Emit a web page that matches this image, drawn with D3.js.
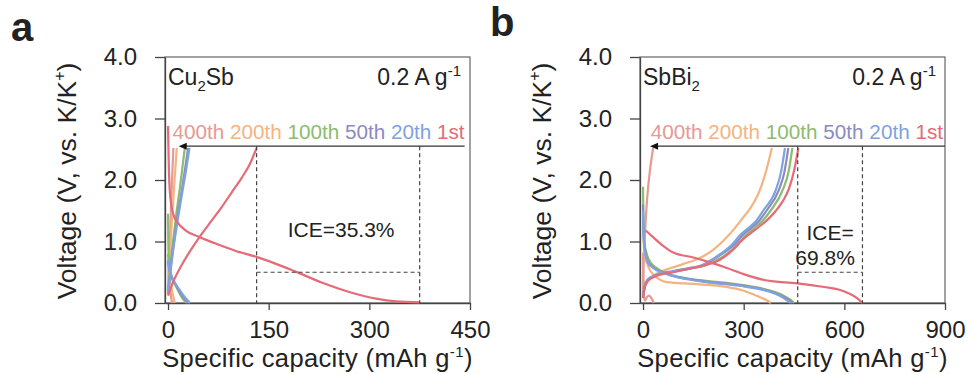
<!DOCTYPE html>
<html>
<head>
<meta charset="utf-8">
<script src="https://cdn.jsdelivr.net/npm/d3@7/dist/d3.min.js"></script>
<style>
  body { margin: 0; background: #fff; }
  text { font-family: "Liberation Sans", Arial, sans-serif; fill: #222; }
</style>
</head>
<body>
<svg id="chart" width="971" height="374"></svg>
<script>
// cycles, drawn from 400th up to 1st so the 1st sits on top
const cycleLabels = ["400th", "200th", "100th", "50th", "20th", "1st"];
const cycleColors = ["#e59a94", "#f5b380", "#8dbb6f", "#8a8cbf", "#7fa3de", "#e56b76"];

const voltTicks = [0, 1, 2, 3, 4];
const capTicksA = [0, 150, 300, 450];
const capTicksB = [0, 300, 600, 900];

// --- Cu2Sb, [capacity mAh/g, voltage V] ---
const cu400Cha = [[0, 0.25], [2, 0.8], [4, 1.4], [6, 2.0], [8, 2.52]];
const cu400Dis = [[0, 0.8], [1, 0.55], [2, 0.35], [4, 0.15], [6, 0]];
const cu200Cha = [[0, 0.2], [2, 0.6], [5, 1.2], [8, 1.7], [11, 2.2], [13, 2.52]];
const cu200Dis = [[0, 0.75], [1, 0.55], [3, 0.38], [5, 0.25], [8, 0.1], [10, 0]];
const cu100Cha = [[0, 0.18], [3, 0.55], [8, 1.05], [13, 1.5], [18, 1.9], [22, 2.25], [25, 2.52]];
const cu100Dis = [[0, 1.45], [0.5, 0.95], [2, 0.62], [6, 0.42], [12, 0.27], [18, 0.14], [24, 0.04], [28, 0]];
const cu50Cha = [[0, 0.15], [3, 0.48], [8, 0.93], [14, 1.4], [20, 1.8], [25, 2.15], [30, 2.52]];
const cu50Dis = [[0, 0.68], [2, 0.54], [6, 0.4], [12, 0.28], [19, 0.15], [26, 0.05], [31, 0]];
const cu20Cha = [[0, 0.15], [3, 0.45], [8, 0.88], [14, 1.32], [20, 1.72], [26, 2.1], [32, 2.52]];
const cu20Dis = [[0, 0.7], [2, 0.55], [6, 0.42], [12, 0.3], [20, 0.17], [27, 0.07], [33, 0]];
const cu1stCha = [[0, 0.12], [4, 0.24], [10, 0.4], [20, 0.61], [35, 0.88], [50, 1.12], [65, 1.34],
                  [80, 1.56], [95, 1.8], [110, 2.04], [122, 2.26], [132, 2.52]];
const cu1stDis = [[0, 2.88], [1, 2.3], [2, 1.95], [4, 1.66], [8, 1.44], [15, 1.3], [25, 1.19], [45, 1.08],
                  [70, 0.97], [100, 0.85], [132, 0.75], [160, 0.64], [190, 0.51], [230, 0.33],
                  [270, 0.18], [310, 0.07], [340, 0.025], [375, 0.01]];

// --- SbBi2 ---
const sb400Cha = [[0, 0.1], [1, 0.55], [30, 2.52]];
const sb400Dis = [[0, 0.82], [1, 0.4], [3, 0.1], [6, 0.04], [12, 0.1], [18, 0.12], [25, 0.08], [32, 0]];
const sb200Cha = [[0, 0.12], [10, 0.33], [31, 0.44], [90, 0.58], [140, 0.67], [169, 0.73], [208, 0.86],
                  [248, 1.06], [297, 1.38], [330, 1.63], [350, 1.86], [367, 2.15], [384, 2.52]];
const sb200Dis = [[0, 1.2], [3, 0.9], [8, 0.72], [15, 0.6], [22, 0.52], [31, 0.46], [50, 0.38], [70, 0.34],
                  [150, 0.31], [250, 0.26], [300, 0.2], [346, 0.1], [370, 0.04], [381, 0]];
const sb100Cha = [[0, 0.1], [5, 0.28], [15, 0.38], [40, 0.45], [90, 0.51], [140, 0.56], [185, 0.61],
                  [235, 0.74], [282, 0.95], [310, 1.12], [330, 1.21], [355, 1.33], [380, 1.5],
                  [418, 1.86], [434, 2.14], [445, 2.52]];
const sb100Dis = [[0, 1.89], [1, 1.4], [4, 1.0], [11, 0.8], [25, 0.64], [40, 0.57], [90, 0.44],
                  [188, 0.36], [287, 0.3], [366, 0.22], [415, 0.13], [440, 0.05], [450, 0]];
const sb50Cha = [[0, 0.1], [5, 0.28], [15, 0.39], [40, 0.46], [90, 0.52], [140, 0.57], [175, 0.61],
                 [225, 0.76], [274, 0.96], [302, 1.13], [320, 1.21], [345, 1.33], [368, 1.5],
                 [405, 1.84], [421, 2.12], [433, 2.52]];
const sb50Dis = [[0, 1.6], [2, 1.1], [6, 0.85], [14, 0.68], [30, 0.58], [60, 0.5], [110, 0.42],
                 [188, 0.35], [287, 0.29], [366, 0.21], [412, 0.12], [435, 0.05], [445, 0]];
const sb20Cha = [[0, 0.1], [5, 0.28], [15, 0.38], [40, 0.45], [90, 0.51], [140, 0.56], [169, 0.6],
                 [218, 0.75], [267, 0.96], [294, 1.13], [312, 1.21], [336, 1.33], [358, 1.5],
                 [396, 1.84], [411, 2.12], [423, 2.52]];
const sb20Dis = [[0, 1.5], [2, 1.05], [6, 0.82], [14, 0.66], [30, 0.57], [60, 0.49], [110, 0.41],
                 [188, 0.34], [287, 0.28], [366, 0.2], [410, 0.11], [430, 0.04], [440, 0]];
const sb1stCha = [[0, 0.08], [5, 0.25], [15, 0.36], [40, 0.44], [90, 0.5], [140, 0.56], [189, 0.62],
                  [228, 0.7], [267, 0.86], [297, 1.03], [322, 1.14], [346, 1.24], [372, 1.36],
                  [396, 1.5], [417, 1.66], [435, 1.86], [451, 2.17], [463, 2.52]];
const sb1stDis = [[8, 1.18], [30, 1.07], [60, 0.93], [90, 0.82], [150, 0.74], [200, 0.66], [250, 0.57],
                  [300, 0.47], [365, 0.37], [460, 0.32], [540, 0.26], [583, 0.22], [612, 0.16],
                  [640, 0.07], [654, 0]];

const panels = [
  {
    letter: "a", letterX: 11, letterY: 41,
    x0: 165, x1: 470, xDomain: [-4.5, 450], xTicks: capTicksA,
    name: ["Cu", "2", "Sb"],
    curves: [[cu400Cha, cu400Dis], [cu200Cha, cu200Dis], [cu100Cha, cu100Dis],
             [cu50Cha, cu50Dis], [cu20Cha, cu20Dis], [cu1stCha, cu1stDis]],
    arrow: [16, 442], arrowV: 2.55,
    dash: [132, 375], ice: ["ICE=35.3%"]
  },
  {
    letter: "b", letterX: 490, letterY: 36,
    x0: 640, x1: 945, xDomain: [-9, 900], xTicks: capTicksB,
    name: ["SbBi", "2", ""],
    curves: [[sb400Cha, sb400Dis], [sb200Cha, sb200Dis], [sb100Cha, sb100Dis],
             [sb50Cha, sb50Dis], [sb20Cha, sb20Dis], [sb1stCha, sb1stDis]],
    arrow: [21, 900], arrowV: 2.55,
    dash: [461, 654], ice: ["ICE=", "69.8%"]
  }
];

const svg = d3.select("#chart");
const yTop = 57, yBot = 303;

panels.forEach(p => {
  const x = d3.scaleLinear().domain(p.xDomain).range([p.x0, p.x1]);
  const y = d3.scaleLinear().domain([0, 4]).range([yBot, yTop]);
  const g = svg.append("g");

  // frame
  g.append("rect")
    .attr("x", p.x0).attr("y", yTop)
    .attr("width", p.x1 - p.x0).attr("height", yBot - yTop)
    .attr("fill", "none").attr("stroke", "#666").attr("stroke-width", 1.2);

  // axes
  const ya = g.append("g").attr("transform", `translate(${p.x0},0)`)
    .call(d3.axisLeft(y).tickValues(voltTicks).tickFormat(d3.format(".1f"))
      .tickSize(10).tickPadding(18).tickSizeOuter(0));
  const xa = g.append("g").attr("transform", `translate(0,${yBot})`)
    .call(d3.axisBottom(x).tickValues(p.xTicks).tickSize(7).tickPadding(11).tickSizeOuter(0));
  [ya, xa].forEach(a => {
    a.select(".domain").attr("stroke", "#444").attr("stroke-width", 1.3);
    a.selectAll(".tick line").attr("stroke", "#444").attr("stroke-width", 1.3);
    a.selectAll(".tick text").attr("font-size", 24).attr("fill", "#222")
      .style("font-family", '"Liberation Sans", Arial, sans-serif');
  });

  // axis titles
  const xt = g.append("text")
    .attr("x", (p.x0 + p.x1) / 2).attr("y", 367)
    .attr("text-anchor", "middle").attr("font-size", 25.5).attr("letter-spacing", 0.35);
  xt.append("tspan").text("Specific capacity (mAh g");
  xt.append("tspan").attr("font-size", 15).attr("dy", -10).text("-1");
  xt.append("tspan").attr("dy", 10).text(")");

  const yt = g.append("text")
    .attr("transform", `translate(${p.x0 - 89},${(yTop + yBot) / 2 + 1}) rotate(-90)`)
    .attr("text-anchor", "middle").attr("font-size", 26.5);
  yt.append("tspan").text("Voltage (V, vs. K/K");
  yt.append("tspan").attr("font-size", 16).attr("dy", -11).text("+");
  yt.append("tspan").attr("dy", 11).text(")");

  // panel letter
  g.append("text").attr("x", p.letterX).attr("y", p.letterY)
    .attr("font-size", 40).attr("font-weight", "bold").attr("fill", "#111").text(p.letter);

  // material + current density
  const nm = g.append("text").attr("x", p.x0 + 3).attr("y", 85).attr("font-size", 23);
  nm.append("tspan").text(p.name[0]);
  nm.append("tspan").attr("font-size", 15).attr("dy", 6).text(p.name[1]);
  nm.append("tspan").attr("dy", -6).text(p.name[2]);

  const cd = g.append("text").attr("x", p.x1 - 9).attr("y", 85)
    .attr("text-anchor", "end").attr("font-size", 23);
  cd.append("tspan").text("0.2 A g");
  cd.append("tspan").attr("font-size", 15).attr("dy", -9).text("-1");

  // curves
  const line = d3.line().x(d => x(d[0])).y(d => y(d[1])).curve(d3.curveMonotoneX);
  p.curves.forEach((pair, i) => {
    pair.forEach(c => {
      g.append("path").datum(c).attr("d", line)
        .attr("fill", "none").attr("stroke", cycleColors[i])
        .attr("stroke-width", 2.2).attr("stroke-linejoin", "round");
    });
  });

  // dashed ICE guides
  const dashStyle = sel => sel.attr("stroke", "#444").attr("stroke-width", 1.2)
    .attr("stroke-dasharray", "4,3").attr("fill", "none");
  p.dash.forEach(c => {
    g.append("line").attr("x1", x(c)).attr("x2", x(c))
      .attr("y1", y(p.arrowV)).attr("y2", y(0)).call(dashStyle);
  });
  g.append("line").attr("x1", x(p.dash[0])).attr("x2", x(p.dash[1]))
    .attr("y1", y(0.5)).attr("y2", y(0.5)).call(dashStyle);

  // arrow
  const ay = y(p.arrowV);
  g.append("line").attr("x1", Math.min(x(p.arrow[1]), p.x1)).attr("x2", x(p.arrow[0]) + 4)
    .attr("y1", ay).attr("y2", ay).attr("stroke", "#333").attr("stroke-width", 1.3);
  const tx = x(p.arrow[0]);
  g.append("path").attr("d", `M${tx},${ay}L${tx + 8},${ay - 3.5}L${tx + 8},${ay + 3.5}Z`)
    .attr("fill", "#111");

  // cycle labels
  const cl = g.append("text").attr("x", Math.min(x(p.arrow[1]), p.x1 - 2)).attr("y", 139)
    .attr("text-anchor", "end").attr("font-size", 20.7);
  cycleLabels.forEach((t, i) => {
    cl.append("tspan").attr("fill", cycleColors[i]).text((i ? " " : "") + t);
  });

  // ICE text
  const mid = x((p.dash[0] + p.dash[1]) / 2);
  if (p.ice.length === 1) {
    g.append("text").attr("x", mid + 3).attr("y", y(1.08))
      .attr("text-anchor", "middle").attr("font-size", 21).text(p.ice[0]);
  } else {
    g.append("text").attr("x", mid).attr("y", y(1.02))
      .attr("text-anchor", "middle").attr("font-size", 21).text(p.ice[0]);
    g.append("text").attr("x", mid - 5).attr("y", y(0.62))
      .attr("text-anchor", "middle").attr("font-size", 21).text(p.ice[1]);
  }
});
</script>
</body>
</html>
